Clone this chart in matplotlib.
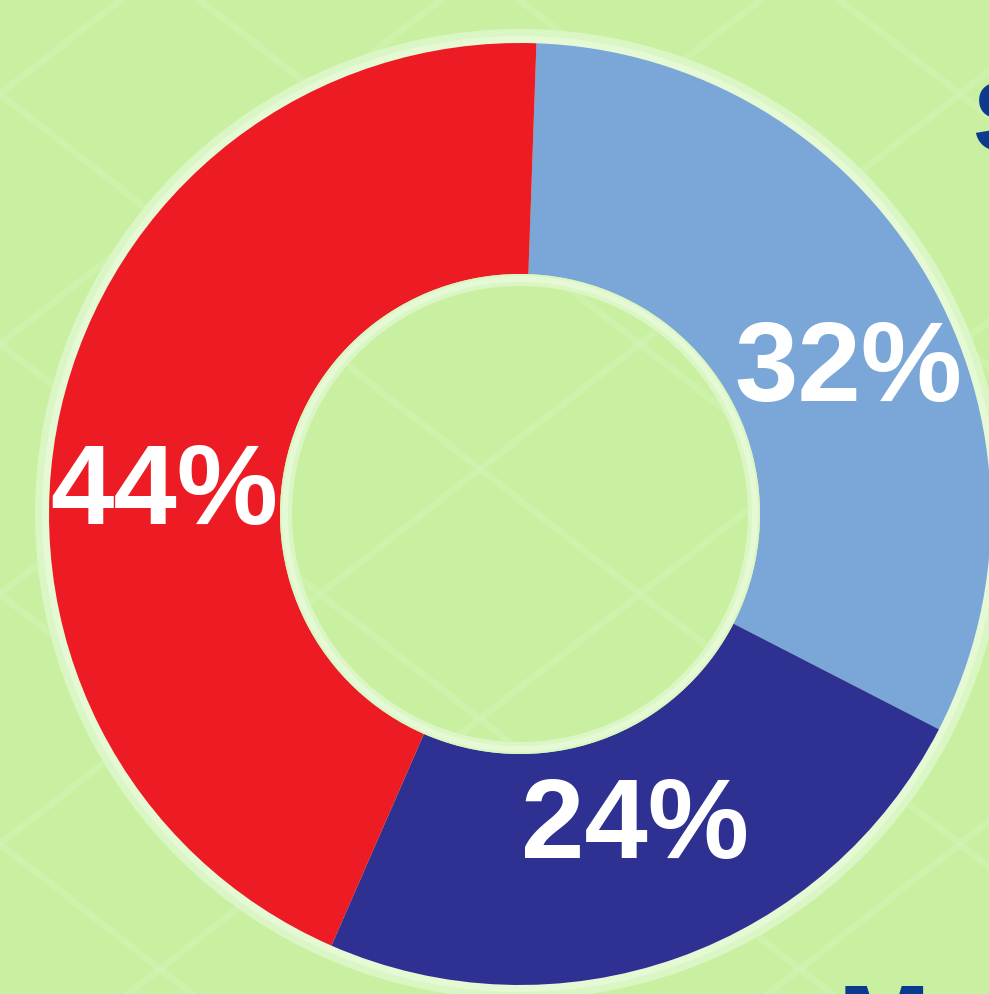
import numpy as np
import matplotlib
matplotlib.use("Agg")
import matplotlib.pyplot as plt
from matplotlib.patches import Wedge

# ---- data ----
categories = ["Segment A", "Segment B", "Segment C"]
values = [32, 24, 44]
labels = ["32%", "24%", "44%"]
colors = ["#7BA6D8", "#2E3192", "#ED1C24"]

W, H = 989, 994
fig = plt.figure(figsize=(W / 100, H / 100), dpi=100)
bg = "#C8F0A0"
fig.patch.set_facecolor(bg)
ax = fig.add_axes([0, 0, 1, 1])
ax.set_facecolor(bg)

def py(y):  # pixel-from-top -> data y
    return H - y

cx, cy = 520, py(514)
R_out, R_in = 471, 240

# faint diagonal lattice in the background
spacing = 250
slope = np.tan(np.radians(38))
xs = np.array([-200, W + 200])
for off in np.arange(-1600, 2600, spacing):
    ax.plot(xs, slope * xs + off, color="#D8F6C0", lw=5, alpha=0.35, zorder=0)
    ax.plot(xs, -slope * xs + off, color="#D8F6C0", lw=5, alpha=0.35, zorder=0)

# pale outer rim
ax.add_patch(Wedge((cx, cy), R_out + 14, 0, 360, width=16, facecolor="#DAF6C4",
                   edgecolor="none", zorder=1))
ax.add_patch(Wedge((cx, cy), R_out + 7, 0, 360, width=9, facecolor="#E4F9D4",
                   edgecolor="none", zorder=1))

wedges, _ = ax.pie(values, colors=colors, startangle=88, counterclock=False,
                   center=(cx, cy), radius=R_out,
                   wedgeprops=dict(width=R_out - R_in, edgecolor="none"))
for w in wedges:
    w.set_zorder(2)

# pale inner rim
ax.add_patch(Wedge((cx, cy), R_in, 0, 360, width=12, facecolor="#DAF6C4",
                   edgecolor="none", zorder=3))
ax.add_patch(Wedge((cx, cy), R_in - 2, 0, 360, width=6, facecolor="#E4F9D4",
                   edgecolor="none", zorder=3))

# percentage labels
label_pos = [(848, 372), (635, 829), (164, 495)]
for txt, (lx, ly) in zip(labels, label_pos):
    ax.text(lx, py(ly), txt, color="white", fontsize=82, fontweight="bold",
            family="Liberation Sans", ha="center", va="center", zorder=5)

# partially visible legend text on the right (cut off as in the reference)
ax.text(972, py(125), "S", color="#0B3A8E", fontsize=72, fontweight="bold",
        family="Liberation Sans", ha="left", va="center", zorder=5)
ax.text(838, py(982), "M", color="#0B3A8E", fontsize=80, fontweight="bold",
        family="Liberation Sans", ha="left", va="top", zorder=5)

ax.set_xlim(0, W)
ax.set_ylim(0, H)
ax.set_aspect("auto")
ax.axis("off")

fig.savefig("out.png", dpi=100, facecolor=bg)
